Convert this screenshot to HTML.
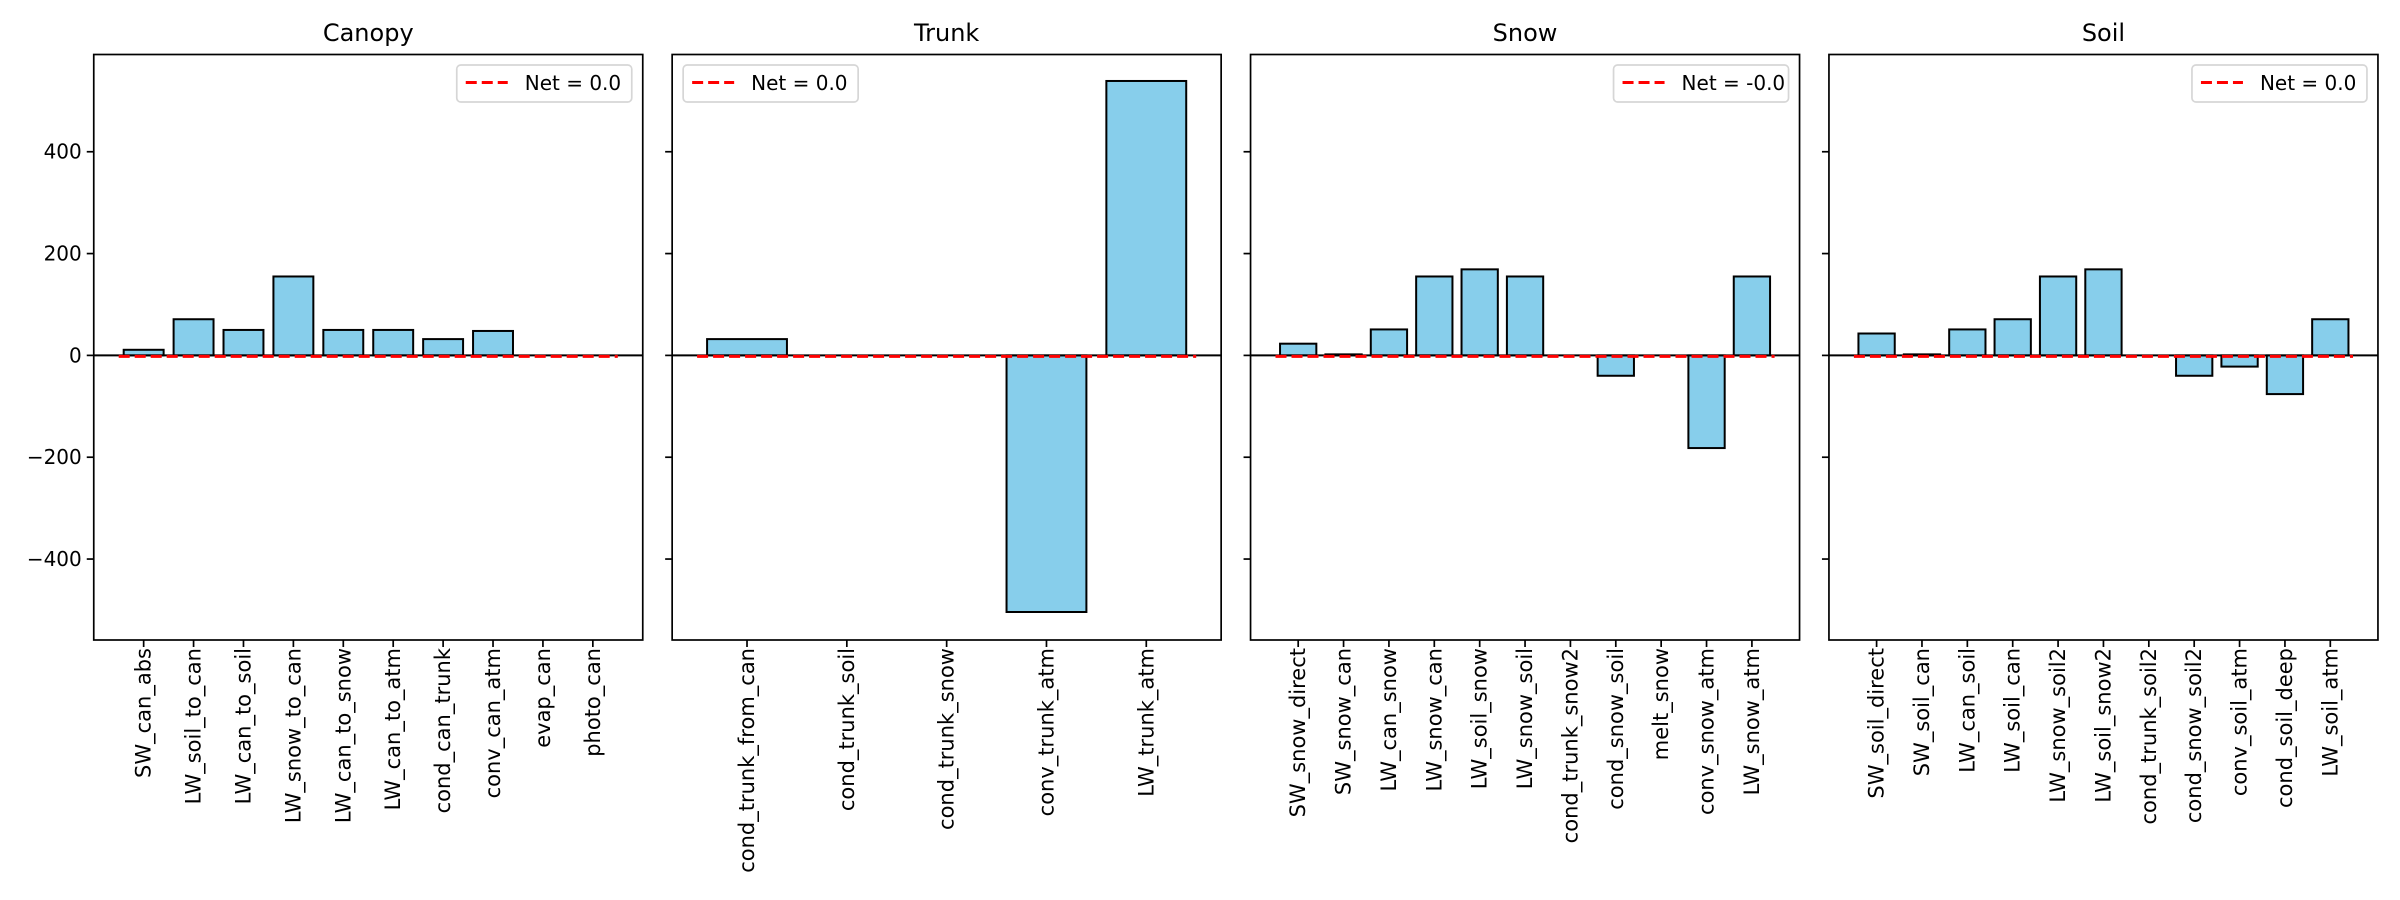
<!DOCTYPE html>
<html><head><meta charset="utf-8"><style>
body{margin:0;background:#fff;}
svg{display:block;font-family:"DejaVu Sans","Liberation Sans",sans-serif;}
</style></head><body>
<svg id="fig" width="2400" height="900" viewBox="0 0 2400 900" xmlns="http://www.w3.org/2000/svg"></svg>
<script>
const titles = ["Canopy","Trunk","Snow","Soil"];
const netLabels = ["Net = 0.0","Net = 0.0","Net = -0.0","Net = 0.0"];
const canopyCats = ["SW_can_abs","LW_soil_to_can","LW_can_to_soil","LW_snow_to_can","LW_can_to_snow","LW_can_to_atm","cond_can_trunk","conv_can_atm","evap_can","photo_can"];
const canopyVals = [11,71,50,155,50,50,32,48,0,0];
const trunkCats = ["cond_trunk_from_can","cond_trunk_soil","cond_trunk_snow","conv_trunk_atm","LW_trunk_atm"];
const trunkVals = [32,0,0,-504,539];
const snowCats = ["SW_snow_direct","SW_snow_can","LW_can_snow","LW_snow_can","LW_soil_snow","LW_snow_soil","cond_trunk_snow2","cond_snow_soil","melt_snow","conv_snow_atm","LW_snow_atm"];
const snowVals = [23,2,51,155,169,155,0,-40,0,-182,155];
const soilCats = ["SW_soil_direct","SW_soil_can","LW_can_soil","LW_soil_can","LW_snow_soil2","LW_soil_snow2","cond_trunk_soil2","cond_snow_soil2","conv_soil_atm","cond_soil_deep","LW_soil_atm"];
const soilVals = [43,2,51,71,155,169,0,-40,-22,-76,71];
const yTicks = [-400,-200,0,200,400];
const yMin = -559, yMax = 591;

const NS="http://www.w3.org/2000/svg";
const svg=document.getElementById('fig');
function mk(tag,attrs,parent){const e=document.createElementNS(NS,tag);for(const k in attrs)e.setAttribute(k,attrs[k]);(parent||svg).appendChild(e);return e;}

const panels=[[canopyCats,canopyVals],[trunkCats,trunkVals],[snowCats,snowVals],[soilCats,soilVals]];
const topY=54.5, botY=640, pw=549, step=578.4, left0=93.75;
const yS=v=>topY+(yMax-v)/(yMax-yMin)*(botY-topY);

panels.forEach((p,pi)=>{
  const cats=p[0], vals=p[1], n=cats.length;
  const L=left0+pi*step, R=L+pw;
  const x0=-0.5-0.05*n, x1=n-0.5+0.05*n;
  const xS=v=>L+(v-x0)/(x1-x0)*pw;
  const g=mk('g',{});
  
  
  const t=mk('text',{x:(L+R)/2,y:41,'text-anchor':'middle','font-size':24,fill:'#000'},g);
  t.textContent=titles[pi];
  
  
  vals.forEach((v,i)=>{
    const y0=yS(0), y1=yS(v);
    const r=mk('rect',{x:xS(i-0.4),y:Math.min(y0,y1),width:xS(i+0.4)-xS(i-0.4),height:Math.abs(y1-y0),fill:'#87ceeb',stroke:'#000','stroke-width':2},g);
    
    
  });
  const z=mk('line',{x1:L,x2:R,y1:yS(0),y2:yS(0),stroke:'#000','stroke-width':2},g);
  
  
  const nl=mk('line',{x1:xS(-0.5),x2:xS(n-0.5),y1:yS(0)+1,y2:yS(0)+1,stroke:'#ff0000','stroke-width':3,'stroke-dasharray':'11,5'},g);
  
  
  const box=mk('rect',{x:L,y:topY,width:pw,height:botY-topY,fill:'none',stroke:'#000','stroke-width':1.7},g);
  
  
  yTicks.forEach(tv=>{
    const y=yS(tv);
    mk('line',{x1:L-7,x2:L,y1:y,y2:y,stroke:'#000','stroke-width':1.7},g);
    if(pi===0){
      const tl=mk('text',{x:L-12,y:y+7,'text-anchor':'end','font-size':20,fill:'#000'},g);
      tl.textContent=(tv<0?'\u2212':'')+Math.abs(tv);
      
      
    }
  });
  cats.forEach((c,i)=>{
    const x=xS(i);
    mk('line',{x1:x,x2:x,y1:botY,y2:botY+7,stroke:'#000','stroke-width':1.7},g);
    const tl=mk('text',{x:0,y:0,'text-anchor':'end','font-size':21,fill:'#000',transform:`translate(${x+7},${botY+8}) rotate(-90)`},g);
    tl.textContent=c;
    
    
  });
  const lw=175, lx=(pi===1)?L+11:R-11-lw, ly=65;
  const lg=mk('g',{},g);
  
  
  mk('rect',{x:lx,y:ly,width:lw,height:37,rx:4,fill:'#fff',stroke:'#d6d6d6','stroke-width':1.7},lg);
  mk('line',{x1:lx+9,x2:lx+51,y1:ly+17.5,y2:ly+17.5,stroke:'#ff0000','stroke-width':3,'stroke-dasharray':'11,5'},lg);
  const lt=mk('text',{x:lx+68,y:ly+25,'font-size':20,fill:'#000'},lg);
  lt.textContent=netLabels[pi];
  
  
});
</script>
</body></html>
